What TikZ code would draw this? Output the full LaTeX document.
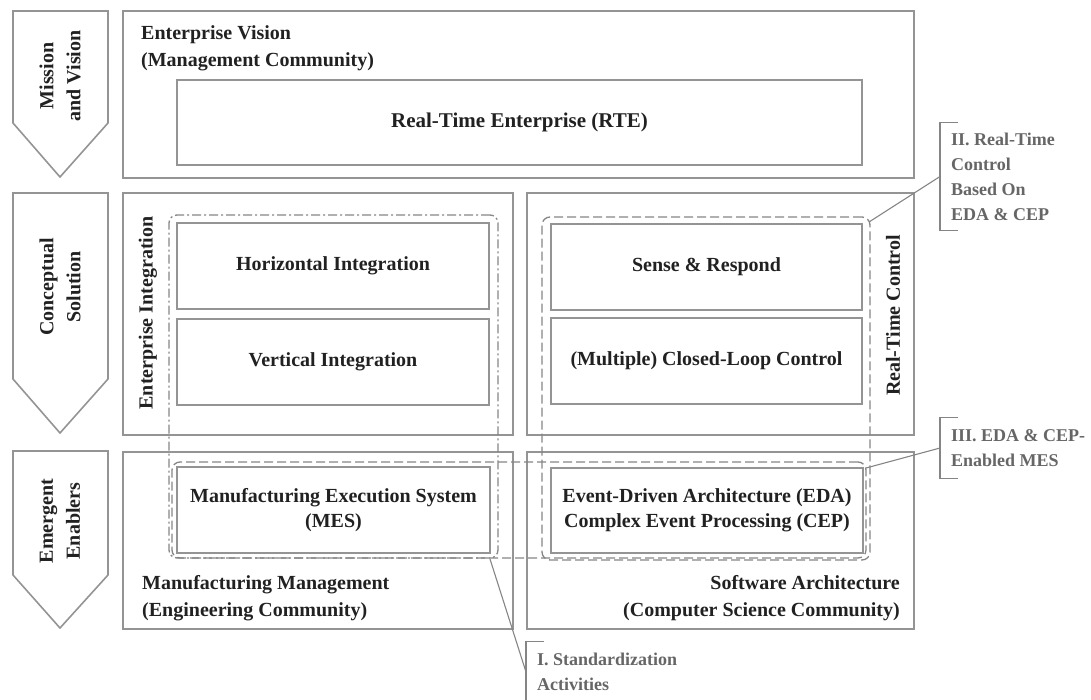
\documentclass[tikz,border=0pt]{standalone}
\usepackage{fontspec}
\setmainfont{Liberation Serif}

\definecolor{linegray}{gray}{0.58}
\definecolor{inkgray}{gray}{0.13}
\definecolor{notegray}{gray}{0.40}

\begin{document}
\begin{tikzpicture}[x=1pt, y=-1pt,
    frame/.style = {draw=linegray, line width=1.6pt, inner sep=0pt},
    block/.style = {draw=linegray, line width=1.3pt, inner sep=0pt, align=center,
                    text=inkgray, font=\fontsize{20}{25}\selectfont\bfseries},
    tag/.style   = {inner sep=0pt, text=inkgray, font=\fontsize{20}{27}\selectfont\bfseries},
    group/.style = {draw=linegray!90!black, line width=1.3pt, rounded corners=8pt, inner sep=0pt,
                    dash pattern=on 9pt off 4pt},
    stage/.style = {draw=linegray, line width=1.6pt, line join=miter},
    note/.style  = {anchor=west, inner xsep=11pt, inner ysep=0pt, align=left,
                    text=notegray, font=\fontsize{18}{25}\selectfont\bfseries},
    noteline/.style = {draw=notegray!80, line width=1.1pt}]

    \useasboundingbox (0,0) rectangle (1091,699);

% stage arrows on the left: top / start of point / tip
    \foreach \top/\side/\tip in {11/123/177, 193/379/433, 451/575/628}{
        \draw [stage] (13,\top) -- (108,\top) -- (108,\side) -- (60,\tip) -- (13,\side) -- cycle;
    }
    \node [tag, rotate=90, align=center] (mission)  at (60,76)  {Mission\\and Vision};
    \node [tag, rotate=90, align=center] (concept)  at (60,287) {Conceptual\\Solution};
    \node [tag, rotate=90, align=center] (enablers) at (60,521) {Emergent\\Enablers};

% outer frames
    \node [frame, minimum width=791, minimum height=167] (vision) at (518.5,94.5) {};
    \node [frame, minimum width=390, minimum height=242] (integ)  at (318,314)    {};
    \node [frame, minimum width=387, minimum height=242] (rtc)    at (720.5,314)  {};
    \node [frame, minimum width=390, minimum height=177] (mfg)    at (318,540.5)  {};
    \node [frame, minimum width=387, minimum height=177] (soft)   at (720.5,540.5){};

% frame captions
    \node [tag, align=left, anchor=north west] (visionlbl) at (141,25)
        {Enterprise Vision\\(Management Community)};
    \node [tag, align=left, anchor=north west] (mfglbl) at (142,575)
        {Manufacturing Management\\(Engineering Community)};
    \node [tag, align=right, anchor=north east] (softlbl) at (900,575)
        {Software Architecture\\(Computer Science Community)};
    \node [tag, rotate=90] (integlbl) at (148,313)   {Enterprise Integration};
    \node [tag, rotate=90] (rtclbl)   at (893,315.5) {Real-Time Control};

% inner blocks
    \node [block, minimum width=685, minimum height=85,
           font=\fontsize{21}{25}\selectfont\bfseries] (rte) at (519.5,122.5) {Real-Time Enterprise (RTE)};
    \node [block, minimum width=312, minimum height=86] (hor) at (333,266)   {Horizontal Integration};
    \node [block, minimum width=312, minimum height=86] (ver) at (333,362)   {Vertical Integration};
    \node [block, minimum width=313, minimum height=86] (mes) at (333.5,510) {Manufacturing Execution System\\(MES)};
    \node [block, minimum width=311, minimum height=86] (sar) at (706.5,267) {Sense \& Respond};
    \node [block, minimum width=311, minimum height=86] (clc) at (706.5,361) {(Multiple) Closed-Loop Control};
    \node [block, minimum width=312, minimum height=85] (eda) at (707,510.5)
        {Event-Driven Architecture (EDA)\\Complex Event Processing (CEP)};

% dashed groups
    \node [group, dash pattern=on 9pt off 3pt on 2pt off 3pt,
           minimum width=329, minimum height=343] (grpA) at (333.5,386.5) {};
    \node [group, minimum width=328, minimum height=343] (grpB) at (706,388.5) {};
    \node [group, minimum width=694, minimum height=96]  (grpC) at (519,510)   {};

% callouts
    \node [note, minimum height=107] (callII) at (940,176.5)
        {II. Real-Time\\Control\\Based On\\EDA \& CEP};
    \node [note, minimum height=60] (callIII) at (940,448)
        {III. EDA \& CEP-\\Enabled MES};
    \node [note, minimum height=60] (callI) at (526,672)
        {I. Standardization\\Activities};

    \foreach \n in {callI, callII, callIII}{
        \draw [noteline] ([xshift=18pt]\n.north west) -- (\n.north west)
            -- (\n.south west) -- ([xshift=18pt]\n.south west);
    }

    \coordinate (aTip) at (490,559);
    \coordinate (bTip) at (869,222);
    \coordinate (cTip) at (866,468);
    \draw [noteline] (aTip) -- (callI.west);
    \draw [noteline] (bTip) -- (callII.west);
    \draw [noteline] (cTip) -- (callIII.west);

\end{tikzpicture}
\end{document}
